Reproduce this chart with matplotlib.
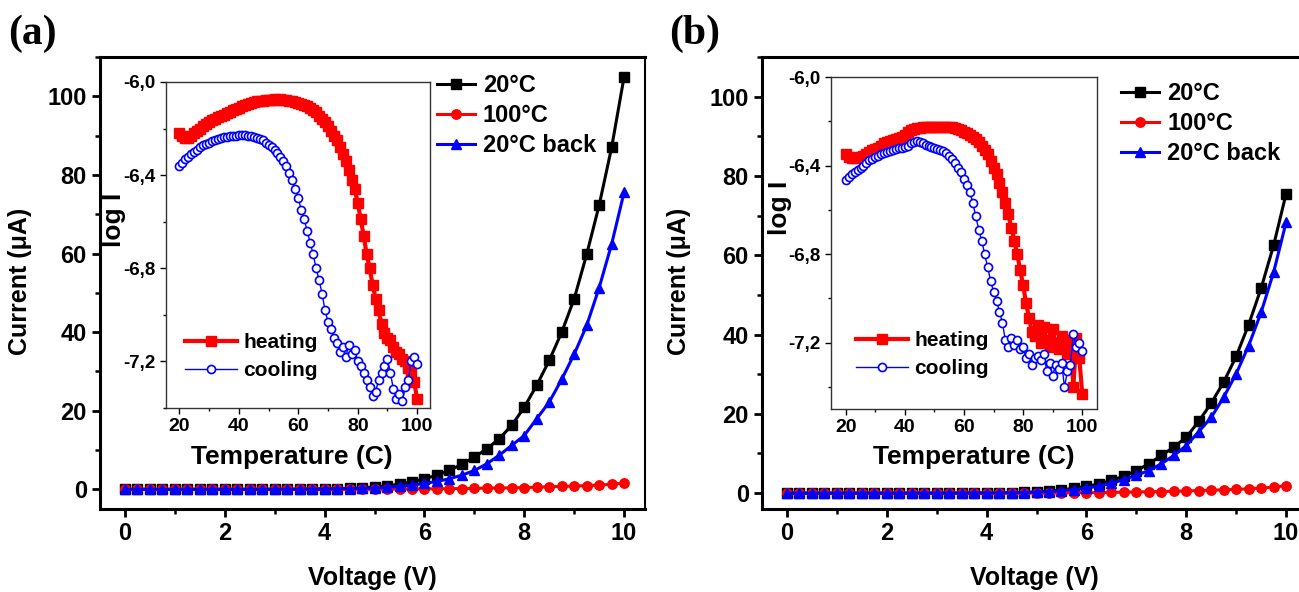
import numpy as np
import matplotlib
matplotlib.use("Agg")
import matplotlib.pyplot as plt
from matplotlib.ticker import MultipleLocator, FuncFormatter

plt.rcParams["font.family"] = ["Liberation Sans", "DejaVu Sans"]
plt.rcParams["font.weight"] = "bold"

# ── main I-V data (0-10 V, 0.25 V step) ─────────────────────────────────
voltage = np.arange(0, 10.01, 0.25)

a_20 = [0, 0, 0, 0, 0, 0, 0, 0, 0, 0, 0.01, 0.01, 0.02, 0.03, 0.05, 0.08,
        0.12, 0.18, 0.27, 0.4, 0.6, 0.9, 1.3, 1.9, 2.7, 3.6, 4.8, 6.4, 8.2, 10.3,
        12.9, 16.3, 20.9, 26.5, 32.8, 40.0, 48.5, 59.8, 72.3, 87.0, 105.0]
a_100 = [0, 0, 0, 0, 0, 0, 0, 0, 0, 0, 0, 0, 0, 0, 0, 0,
         0, 0, 0, 0, 0.02, 0.05, 0.08, 0.1, 0.12, 0.15, 0.18, 0.2, 0.25, 0.3,
         0.35, 0.4, 0.45, 0.55, 0.65, 0.75, 0.85, 0.95, 1.1, 1.3, 1.6]
a_20b = [0, 0, 0, 0, 0, 0, 0, 0, 0, 0, 0, 0.01, 0.01, 0.02, 0.03, 0.05,
         0.08, 0.12, 0.18, 0.25, 0.35, 0.5, 0.8, 1.1, 1.5, 2.0, 2.7, 3.6, 4.8, 6.5,
         8.7, 11.2, 13.7, 18.0, 22.2, 28.0, 34.4, 41.7, 51.3, 62.4, 75.6]

b_20 = [0, 0, 0, 0, 0, 0, 0, 0, 0, 0, 0, 0.01, 0.01, 0.02, 0.03, 0.04,
        0.05, 0.08, 0.12, 0.2, 0.3, 0.5, 0.8, 1.2, 1.7, 2.3, 3.2, 4.3, 5.7, 7.4,
        9.5, 11.6, 14.1, 18.1, 22.7, 28.0, 34.5, 42.5, 51.7, 62.5, 75.5]
b_100 = [0, 0, 0, 0, 0, 0, 0, 0, 0, 0, 0, 0, 0, 0, 0, 0,
         0, 0, 0, 0, 0.02, 0.05, 0.08, 0.1, 0.12, 0.15, 0.2, 0.25, 0.3, 0.35,
         0.4, 0.5, 0.55, 0.65, 0.75, 0.85, 0.95, 1.1, 1.3, 1.5, 1.9]
b_20b = [0, 0, 0, 0, 0, 0, 0, 0, 0, 0, 0, 0, 0.01, 0.01, 0.02, 0.03,
         0.04, 0.06, 0.1, 0.15, 0.25, 0.4, 0.6, 0.9, 1.3, 1.8, 2.5, 3.4, 4.5, 5.7,
         7.4, 9.5, 12.0, 15.5, 19.1, 24.2, 30.1, 37.2, 45.6, 55.7, 68.3]

# ── inset log I vs temperature (20-100 C, 1 C step) ─────────────────────
temp = np.arange(20, 101, 1)

a_heat = [-6.22, -6.23, -6.24, -6.24, -6.23, -6.22, -6.21, -6.20, -6.19, -6.18,
          -6.17, -6.165, -6.16, -6.15, -6.145, -6.14, -6.135, -6.13, -6.12, -6.115,
          -6.11, -6.105, -6.10, -6.095, -6.09, -6.085, -6.083, -6.08, -6.08, -6.078,
          -6.076, -6.076, -6.075, -6.076, -6.075, -6.076, -6.077, -6.08, -6.082, -6.085,
          -6.09, -6.095, -6.10, -6.105, -6.11, -6.12, -6.13, -6.145, -6.16, -6.17,
          -6.19, -6.21, -6.23, -6.25, -6.28, -6.31, -6.34, -6.38, -6.42, -6.46,
          -6.52, -6.59, -6.66, -6.74, -6.80, -6.87, -6.93, -6.98, -7.04, -7.08,
          -7.10, -7.11, -7.14, -7.16, -7.17, -7.19, -7.20, -7.23, -7.25, -7.29,
          -7.36]
a_cool = [-6.36, -6.35, -6.33, -6.32, -6.31, -6.30, -6.29, -6.28, -6.27, -6.265,
          -6.26, -6.255, -6.25, -6.245, -6.24, -6.238, -6.235, -6.232, -6.23, -6.23,
          -6.228, -6.228, -6.228, -6.23, -6.232, -6.235, -6.24, -6.245, -6.25, -6.26,
          -6.27, -6.28, -6.29, -6.305, -6.32, -6.34, -6.36, -6.39, -6.42, -6.46,
          -6.50, -6.55, -6.59, -6.64, -6.69, -6.74, -6.80, -6.85, -6.91, -6.98,
          -7.03, -7.06, -7.10, -7.12, -7.16, -7.14, -7.18, -7.13, -7.17, -7.15,
          -7.20, -7.22, -7.25, -7.28, -7.31, -7.35, -7.33, -7.28, -7.25, -7.22,
          -7.19, -7.25, -7.32, -7.36, -7.34, -7.37, -7.31, -7.28, -7.20, -7.18,
          -7.21]

b_heat = [-6.35, -6.36, -6.365, -6.365, -6.36, -6.36, -6.355, -6.35, -6.34, -6.33,
          -6.325, -6.32, -6.31, -6.30, -6.295, -6.29, -6.285, -6.28, -6.275, -6.27,
          -6.26, -6.25, -6.24, -6.235, -6.232, -6.23, -6.228, -6.227, -6.226, -6.225,
          -6.225, -6.225, -6.225, -6.226, -6.226, -6.227, -6.228, -6.23, -6.235, -6.24,
          -6.25, -6.255, -6.26, -6.27, -6.28, -6.295, -6.31, -6.33, -6.35, -6.38,
          -6.41, -6.44, -6.48, -6.52, -6.57, -6.62, -6.68, -6.74, -6.80, -6.87,
          -6.94, -7.02, -7.09, -7.15, -7.17, -7.12, -7.20, -7.13, -7.19, -7.22,
          -7.14, -7.20, -7.23, -7.17, -7.21, -7.25, -7.19, -7.40, -7.18, -7.27,
          -7.43]
b_cool = [-6.465, -6.45, -6.44, -6.43, -6.42, -6.41, -6.40, -6.39, -6.375, -6.37,
          -6.36, -6.355, -6.35, -6.345, -6.34, -6.335, -6.33, -6.325, -6.32, -6.32,
          -6.315, -6.31, -6.30, -6.295, -6.29, -6.295, -6.30, -6.305, -6.31, -6.315,
          -6.32, -6.325, -6.33, -6.335, -6.345, -6.355, -6.37, -6.39, -6.41, -6.43,
          -6.46, -6.49, -6.52, -6.57, -6.63, -6.69, -6.74, -6.80, -6.86, -6.92,
          -6.97, -7.01, -7.06, -7.11, -7.19, -7.22, -7.18, -7.21, -7.19, -7.23,
          -7.22, -7.27, -7.25, -7.30, -7.27, -7.26, -7.28, -7.25, -7.33, -7.29,
          -7.35, -7.30, -7.32, -7.29, -7.40, -7.33, -7.30, -7.16, -7.22, -7.20,
          -7.24]

BLUE = "#0000ff"
RED = "#ff0000"

fig = plt.figure(figsize=(12.99, 5.92), dpi=100)

comma = FuncFormatter(lambda v, p: f"{v:.1f}".replace(".", ","))


def draw_panel(main_rect, inset_rect, tag, tag_x, i20, i100, i20b, heat, cool,
               ylim, inset_xlim, inset_ylim, leg_anchor, ileg_anchor,
               ylab_xy, iylab_xy, ixlab_xy):
    ax = fig.add_axes(main_rect)
    ax.plot(voltage, i20, "-s", color="black", lw=2.2, ms=6.8, label="20°C")
    ax.plot(voltage, i100, "-o", color=RED, lw=2.2, ms=6.8, label="100°C")
    ax.plot(voltage, i20b, "-^", color=BLUE, lw=2.2, ms=7.2, label="20°C back")
    ax.set_xlim(-0.5, 10.42)
    ax.set_ylim(*ylim)
    ax.xaxis.set_major_locator(MultipleLocator(2))
    ax.xaxis.set_minor_locator(MultipleLocator(1))
    ax.yaxis.set_major_locator(MultipleLocator(20))
    ax.yaxis.set_minor_locator(MultipleLocator(10))
    ax.tick_params(which="both", direction="out", top=False, right=False,
                   labelsize=17)
    ax.tick_params(which="major", length=6, width=2)
    ax.tick_params(which="minor", length=3.5, width=1.8)
    for s in ["left", "bottom", "top"]:
        ax.spines[s].set_linewidth(2.2)
    ax.spines["right"].set_linewidth(1.5)
    ax.set_ylabel("Current (μA)", fontsize=18, fontweight="bold")
    ax.set_xlabel("Voltage (V)", fontsize=18, fontweight="bold")
    ax.yaxis.set_label_coords(*ylab_xy)
    ax.xaxis.set_label_coords(0.5, -0.125)
    ax.legend(loc="upper left", bbox_to_anchor=leg_anchor, frameon=False,
              fontsize=17, handlelength=1.6, handletextpad=0.35,
              labelspacing=0.3, borderpad=0, borderaxespad=0)
    fig.text(tag_x, 0.975, tag, fontsize=30, fontweight="bold",
             family="Liberation Serif", ha="left", va="top")

    ins = fig.add_axes(inset_rect)
    ins.plot(temp, heat, "-s", color=RED, lw=3.0, ms=7, label="heating")
    ins.plot(temp, cool, "-o", color=BLUE, lw=1.0, ms=5.8, mfc="white",
             mew=1.2, label="cooling")
    ins.set_xlim(*inset_xlim)
    ins.set_ylim(*inset_ylim)
    ins.xaxis.set_major_locator(MultipleLocator(20))
    ins.xaxis.set_minor_locator(MultipleLocator(10))
    ins.yaxis.set_major_locator(MultipleLocator(0.4))
    ins.yaxis.set_minor_locator(MultipleLocator(0.2))
    ins.yaxis.set_major_formatter(comma)
    ins.tick_params(which="both", direction="out", top=False, right=False)
    ins.tick_params(axis="x", labelsize=14)
    ins.tick_params(axis="y", labelsize=13.5)
    ins.tick_params(which="major", length=4, width=1)
    ins.tick_params(which="minor", length=2.5, width=1)
    for s in ins.spines.values():
        s.set_linewidth(1.0)
        s.set_color("#333333")
    ins.set_ylabel("log I", fontsize=19, fontweight="bold")
    ins.set_xlabel("Temperature (C)", fontsize=19, fontweight="bold")
    ins.yaxis.set_label_coords(*iylab_xy)
    ins.xaxis.set_label_coords(*ixlab_xy)
    ins.legend(loc="upper left", bbox_to_anchor=ileg_anchor, frameon=False,
               fontsize=15, handlelength=2.5, handletextpad=0.3,
               labelspacing=0.45, borderpad=0, borderaxespad=0)


draw_panel([0.0770, 0.1402, 0.4196, 0.7635], [0.1278, 0.3108, 0.2032, 0.5507],
           "(a)", 0.006, a_20, a_100, a_20b, a_heat, a_cool,
           (-5, 110), (15.5, 104.3), (-7.4, -6.0),
           (0.618, 0.962), (0.072, 0.23),
           (-0.125, 0.504), (-0.15, 0.577), (0.477, -0.113))

draw_panel([0.5866, 0.1402, 0.4196, 0.7635], [0.6397, 0.3091, 0.2048, 0.5608],
           "(b)", 0.515, b_20, b_100, b_20b, b_heat, b_cool,
           (-4, 110), (15, 105), (-7.5, -6.0),
           (0.659, 0.945), (0.094, 0.235),
           (-0.13, 0.504), (-0.147, 0.605), (0.538, -0.108))

fig.savefig("out.png", dpi=100, facecolor="white")
